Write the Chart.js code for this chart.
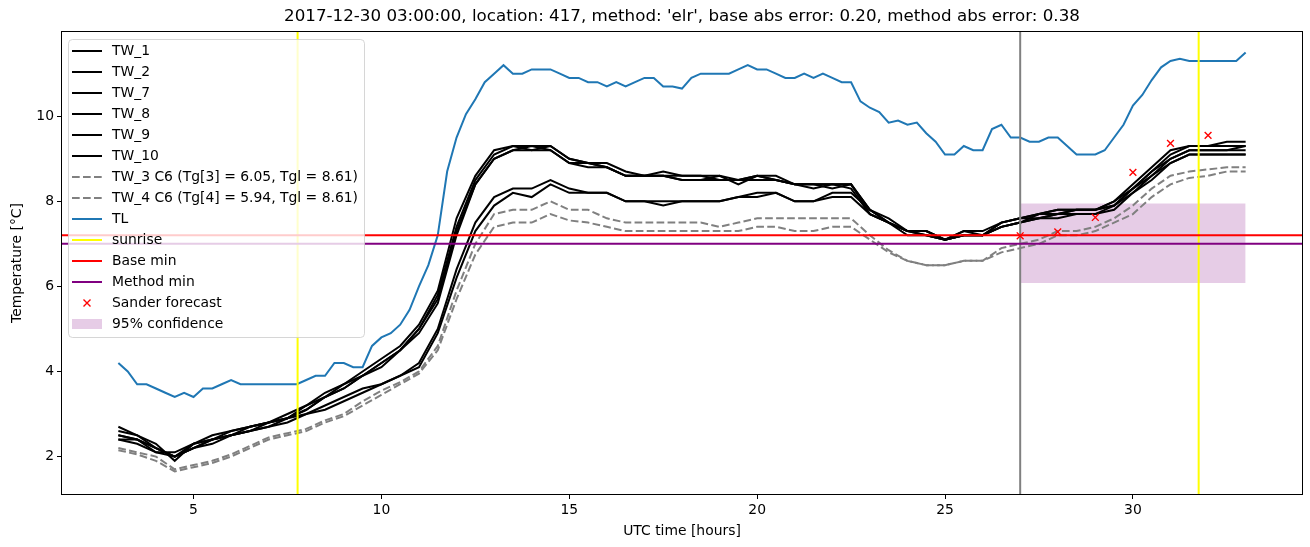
<!DOCTYPE html>
<html>
<head>
<meta charset="utf-8">
<script src="https://cdn.jsdelivr.net/npm/chart.js@4.4.0/dist/chart.umd.min.js"></script>
<style>
  html, body { margin: 0; padding: 0; background: #fff; }
</style>
</head>
<body>
<canvas id="tempChart" width="1310" height="547"></canvas>
<script>
// sampling of the series (hours, UTC)
const START_HOUR = 3;
const TW_STEP = 0.5;
const TL_STEP = 0.25;

// road sensor temperatures, one value every half hour from 03:00 to 33:00
const TW_1 = [2.7,2.5,2.3,1.9,2.3,2.5,2.6,2.7,2.8,3.0,3.2,3.5,3.7,4.0,4.3,4.6,5.1,5.9,7.6,8.6,9.2,9.3,9.3,9.3,9.0,8.9,8.9,8.7,8.6,8.7,8.6,8.6,8.6,8.5,8.6,8.6,8.4,8.4,8.4,8.4,7.8,7.6,7.3,7.3,7.1,7.3,7.3,7.5,7.6,7.7,7.8,7.8,7.8,8.0,8.4,8.8,9.2,9.3,9.3,9.4,9.4];
const TW_2 = [2.6,2.5,2.2,2.0,2.3,2.4,2.6,2.7,2.8,2.9,3.2,3.4,3.7,3.9,4.2,4.5,5.0,5.8,7.4,8.5,9.1,9.3,9.2,9.3,9.0,8.9,8.8,8.6,8.6,8.6,8.6,8.6,8.5,8.5,8.6,8.5,8.4,8.4,8.4,8.4,7.8,7.5,7.3,7.3,7.1,7.2,7.2,7.5,7.6,7.7,7.8,7.8,7.8,8.0,8.3,8.7,9.1,9.3,9.3,9.3,9.3];
const TW_7 = [2.5,2.4,2.2,2.0,2.2,2.4,2.5,2.7,2.8,2.9,3.1,3.4,3.6,3.9,4.2,4.5,5.0,5.7,7.3,8.4,9.0,9.2,9.3,9.2,8.9,8.9,8.8,8.6,8.6,8.6,8.5,8.5,8.6,8.4,8.6,8.5,8.4,8.4,8.3,8.4,7.7,7.5,7.3,7.2,7.1,7.2,7.2,7.4,7.5,7.7,7.7,7.8,7.8,7.9,8.3,8.7,9.0,9.2,9.2,9.2,9.2];
const TW_8 = [2.4,2.4,2.1,2.1,2.3,2.4,2.5,2.6,2.8,2.9,3.1,3.4,3.6,3.9,4.1,4.5,4.9,5.6,7.2,8.4,9.0,9.2,9.2,9.2,8.9,8.8,8.8,8.6,8.6,8.6,8.5,8.5,8.5,8.5,8.5,8.5,8.4,8.3,8.4,8.3,7.7,7.5,7.2,7.2,7.1,7.2,7.2,7.4,7.5,7.6,7.7,7.7,7.7,7.9,8.2,8.6,8.9,9.1,9.1,9.1,9.1];
const TW_9 = [2.5,2.4,2.2,2.0,2.2,2.4,2.5,2.6,2.7,2.9,3.0,3.2,3.4,3.6,3.7,3.9,4.2,5.0,6.4,7.5,8.1,8.3,8.3,8.5,8.3,8.2,8.2,8.0,8.0,8.0,8.0,8.0,8.0,8.1,8.2,8.2,8.0,8.0,8.2,8.2,7.8,7.5,7.3,7.3,7.1,7.3,7.2,7.5,7.6,7.6,7.7,7.8,7.8,7.9,8.3,8.6,9.0,9.2,9.2,9.2,9.3];
const TW_10 = [2.4,2.3,2.1,2.0,2.2,2.3,2.5,2.6,2.7,2.8,3.0,3.1,3.3,3.5,3.7,3.9,4.1,4.9,6.2,7.3,7.9,8.2,8.1,8.4,8.2,8.2,8.2,8.0,8.0,7.9,8.0,8.0,8.0,8.1,8.1,8.2,8.0,8.0,8.1,8.1,7.7,7.5,7.3,7.2,7.1,7.2,7.2,7.4,7.5,7.6,7.6,7.7,7.7,7.8,8.2,8.5,8.9,9.1,9.1,9.1,9.1];
const TW_3 = [2.2,2.1,2.0,1.7,1.8,1.9,2.05,2.25,2.45,2.55,2.65,2.85,3.0,3.3,3.55,3.75,4.0,4.6,5.9,7.0,7.7,7.8,7.8,8.0,7.8,7.8,7.6,7.5,7.5,7.5,7.5,7.5,7.4,7.5,7.6,7.6,7.6,7.6,7.6,7.6,7.2,6.85,6.6,6.5,6.5,6.6,6.6,6.9,7.0,7.1,7.3,7.3,7.4,7.6,7.9,8.3,8.6,8.7,8.75,8.8,8.8];
const TW_4 = [2.15,2.05,1.9,1.65,1.75,1.85,2.0,2.2,2.4,2.5,2.6,2.8,2.95,3.2,3.45,3.7,3.95,4.5,5.7,6.75,7.4,7.5,7.5,7.7,7.55,7.5,7.4,7.3,7.3,7.3,7.3,7.3,7.3,7.3,7.4,7.4,7.3,7.3,7.4,7.4,7.1,6.8,6.6,6.5,6.5,6.6,6.6,6.8,6.9,7.0,7.2,7.2,7.3,7.5,7.7,8.1,8.4,8.55,8.6,8.7,8.7];

// air temperature, one value every quarter hour
const TL = [4.2,4.0,3.7,3.7,3.6,3.5,3.4,3.5,3.4,3.6,
  3.6,3.7,3.8,3.7,3.7,3.7,3.7,3.7,3.7,3.7,
  3.8,3.9,3.9,4.2,4.2,4.1,4.1,4.6,4.8,4.9,
  5.1,5.45,6.0,6.5,7.2,8.7,9.5,10.05,10.4,10.8,
  11.0,11.2,11.0,11.0,11.1,11.1,11.1,11.0,10.9,10.9,
  10.8,10.8,10.7,10.8,10.7,10.8,10.9,10.9,10.7,10.7,
  10.65,10.9,11.0,11.0,11.0,11.0,11.1,11.2,11.1,11.1,
  11.0,10.9,10.9,11.0,10.9,11.0,10.9,10.8,10.8,10.35,
  10.2,10.1,9.85,9.9,9.8,9.85,9.6,9.4,9.1,9.1,
  9.3,9.2,9.2,9.7,9.8,9.5,9.5,9.4,9.4,9.5,
  9.5,9.3,9.1,9.1,9.1,9.2,9.5,9.8,10.25,10.5,
  10.85,11.15,11.3,11.35,11.3,11.3,11.3,11.3,11.3,11.3,
  11.5];

const sunriseHours = [7.77, 31.75];
const forecastHour = 27;
const baseMin = 7.2;
const methodMin = 7.0;
const sanderHours = [27, 28, 29, 30, 31, 32];
const sanderForecast = [7.19, 7.28, 7.62, 8.68, 9.36, 9.55];
const confHours = [27, 33];
const confLow = 6.08;
const confHigh = 7.95;

const xTicks = [5, 10, 15, 20, 25, 30];
const yTicks = [2, 4, 6, 8, 10];
const xRange = [1.5, 34.5];
const yRange = [1.12, 11.98];

const titleText = "2017-12-30 03:00:00, location: 417, method: 'elr', base abs error: 0.20, method abs error: 0.38";

const FONT = '"DejaVu Sans", "Liberation Sans", sans-serif';
const FS = 13.9;
const LW = 2;
const DASH = [7.7, 3.3];

function series(values, step) {
  return values.map((v, i) => ({ x: START_HOUR + i * step, y: v }));
}
function vlines(xs) {
  const pts = [];
  xs.forEach((x) => { pts.push({ x: x, y: -100 }, { x: x, y: 100 }, { x: x, y: null }); });
  return pts;
}
function hline(y) {
  return [{ x: -100, y: y }, { x: 100, y: y }];
}

function lineSet(label, data, color, order, dash) {
  return {
    label: label, data: data, borderColor: color, backgroundColor: color,
    borderWidth: LW, borderDash: dash || [], pointRadius: 0, tension: 0,
    fill: false, order: order, legendKind: "line",
  };
}

const datasets = [
  lineSet("TW_1", series(TW_1, TW_STEP), "#000000", 99),
  lineSet("TW_2", series(TW_2, TW_STEP), "#000000", 98),
  lineSet("TW_7", series(TW_7, TW_STEP), "#000000", 97),
  lineSet("TW_8", series(TW_8, TW_STEP), "#000000", 96),
  lineSet("TW_9", series(TW_9, TW_STEP), "#000000", 95),
  lineSet("TW_10", series(TW_10, TW_STEP), "#000000", 94),
  lineSet("TW_3 C6 (Tg[3] = 6.05, Tgl = 8.61)", series(TW_3, TW_STEP), "#808080", 93, DASH),
  lineSet("TW_4 C6 (Tg[4] = 5.94, Tgl = 8.61)", series(TW_4, TW_STEP), "#808080", 92, DASH),
  lineSet("TL", series(TL, TL_STEP), "#1f77b4", 91),
  lineSet("sunrise", vlines(sunriseHours), "#ffff00", 89),
  lineSet("Base min", hline(baseMin), "#ff0000", 88),
  lineSet("Method min", hline(methodMin), "#800080", 87),
  {
    label: "Sander forecast",
    data: sanderHours.map((h, i) => ({ x: h, y: sanderForecast[i] })),
    showLine: false, pointStyle: "crossRot", pointRadius: 4.8, pointBorderWidth: 1.4,
    borderColor: "#ff0000", backgroundColor: "#ff0000", order: 80, legendKind: "marker",
  },
  {
    label: "95% confidence",
    data: confHours.map((h) => ({ x: h, y: confHigh })),
    borderWidth: 0, pointRadius: 0, tension: 0,
    backgroundColor: "rgba(128, 0, 128, 0.2)", borderColor: "rgba(0,0,0,0)",
    fill: { value: confLow }, order: 100, legendKind: "patch",
  },
  // forecast time marker, not in the legend
  {
    data: vlines([forecastHour]), borderColor: "#808080", borderWidth: LW,
    pointRadius: 0, fill: false, order: 90,
  },
];

// title, box frame and the matplotlib-like legend inside the axes
const decorations = {
  id: "decorations",
  afterDraw(chart) {
    const ctx = chart.ctx;
    const a = chart.chartArea;
    ctx.save();

    ctx.strokeStyle = "#000";
    ctx.lineWidth = 1;
    ctx.strokeRect(Math.round(a.left) - 0.5, Math.round(a.top) - 0.5,
      Math.round(a.right - a.left) + 1, Math.round(a.bottom - a.top) + 1);

    ctx.fillStyle = "#000";
    ctx.font = "16.7px " + FONT;
    ctx.textAlign = "center";
    ctx.textBaseline = "middle";
    ctx.fillText(titleText, (a.left + a.right) / 2, 17);

    const items = chart.data.datasets.filter((d) => d.label);
    const bx = 68, by = 39, bw = 296, bh = 298;
    ctx.beginPath();
    ctx.roundRect(bx + 0.5, by + 0.5, bw, bh, 4);
    ctx.fillStyle = "rgba(255,255,255,0.8)";
    ctx.fill();
    ctx.strokeStyle = "rgba(204,204,204,0.8)";
    ctx.lineWidth = 1;
    ctx.stroke();

    ctx.font = FS + "px " + FONT;
    ctx.textAlign = "left";
    items.forEach((d, i) => {
      const y = 51 + i * 21;
      if (d.legendKind === "line") {
        ctx.beginPath();
        ctx.setLineDash(d.borderDash || []);
        ctx.strokeStyle = d.borderColor;
        ctx.lineWidth = LW;
        ctx.moveTo(72, y);
        ctx.lineTo(102, y);
        ctx.stroke();
        ctx.setLineDash([]);
      } else if (d.legendKind === "marker") {
        ctx.beginPath();
        ctx.strokeStyle = d.borderColor;
        ctx.lineWidth = 1.4;
        ctx.moveTo(83.5, y - 3.5); ctx.lineTo(90.5, y + 3.5);
        ctx.moveTo(83.5, y + 3.5); ctx.lineTo(90.5, y - 3.5);
        ctx.stroke();
      } else if (d.legendKind === "patch") {
        ctx.fillStyle = d.backgroundColor;
        ctx.fillRect(72, y - 5, 30, 10);
      }
      ctx.fillStyle = "#000";
      ctx.fillText(d.label, 112, y);
    });
    ctx.restore();
  },
};

Chart.defaults.font.family = FONT;
Chart.defaults.font.size = FS;
Chart.defaults.color = "#000";

new Chart(document.getElementById("tempChart").getContext("2d"), {
  type: "line",
  data: { datasets: datasets },
  options: {
    responsive: false,
    animation: false,
    events: [],
    layout: { padding: { top: 32, right: 8, left: 0, bottom: 0 } },
    plugins: { legend: { display: false }, tooltip: { enabled: false }, title: { display: false } },
    scales: {
      x: {
        type: "linear",
        min: xRange[0],
        max: xRange[1],
        afterBuildTicks: (scale) => { scale.ticks = xTicks.map((v) => ({ value: v })); },
        afterFit: (scale) => { scale.height = 53; },
        grid: { drawOnChartArea: false, drawTicks: true, tickLength: 5, color: "#000", lineWidth: 1 },
        border: { display: false },
        ticks: { padding: 3, maxRotation: 0, autoSkip: false, font: { size: FS } },
        title: { display: true, text: "UTC time [hours]", font: { size: FS }, padding: { top: 0, bottom: 7 } },
      },
      y: {
        type: "linear",
        min: yRange[0],
        max: yRange[1],
        afterBuildTicks: (scale) => { scale.ticks = yTicks.map((v) => ({ value: v })); },
        afterFit: (scale) => { scale.width = 62; },
        grid: { drawOnChartArea: false, drawTicks: true, tickLength: 5, color: "#000", lineWidth: 1 },
        border: { display: false },
        ticks: { padding: 3, autoSkip: false, font: { size: FS } },
        title: { display: true, text: "Temperature [°C]", font: { size: FS }, padding: { top: 9, bottom: 0 } },
      },
    },
  },
  plugins: [decorations],
});
</script>
</body>
</html>
